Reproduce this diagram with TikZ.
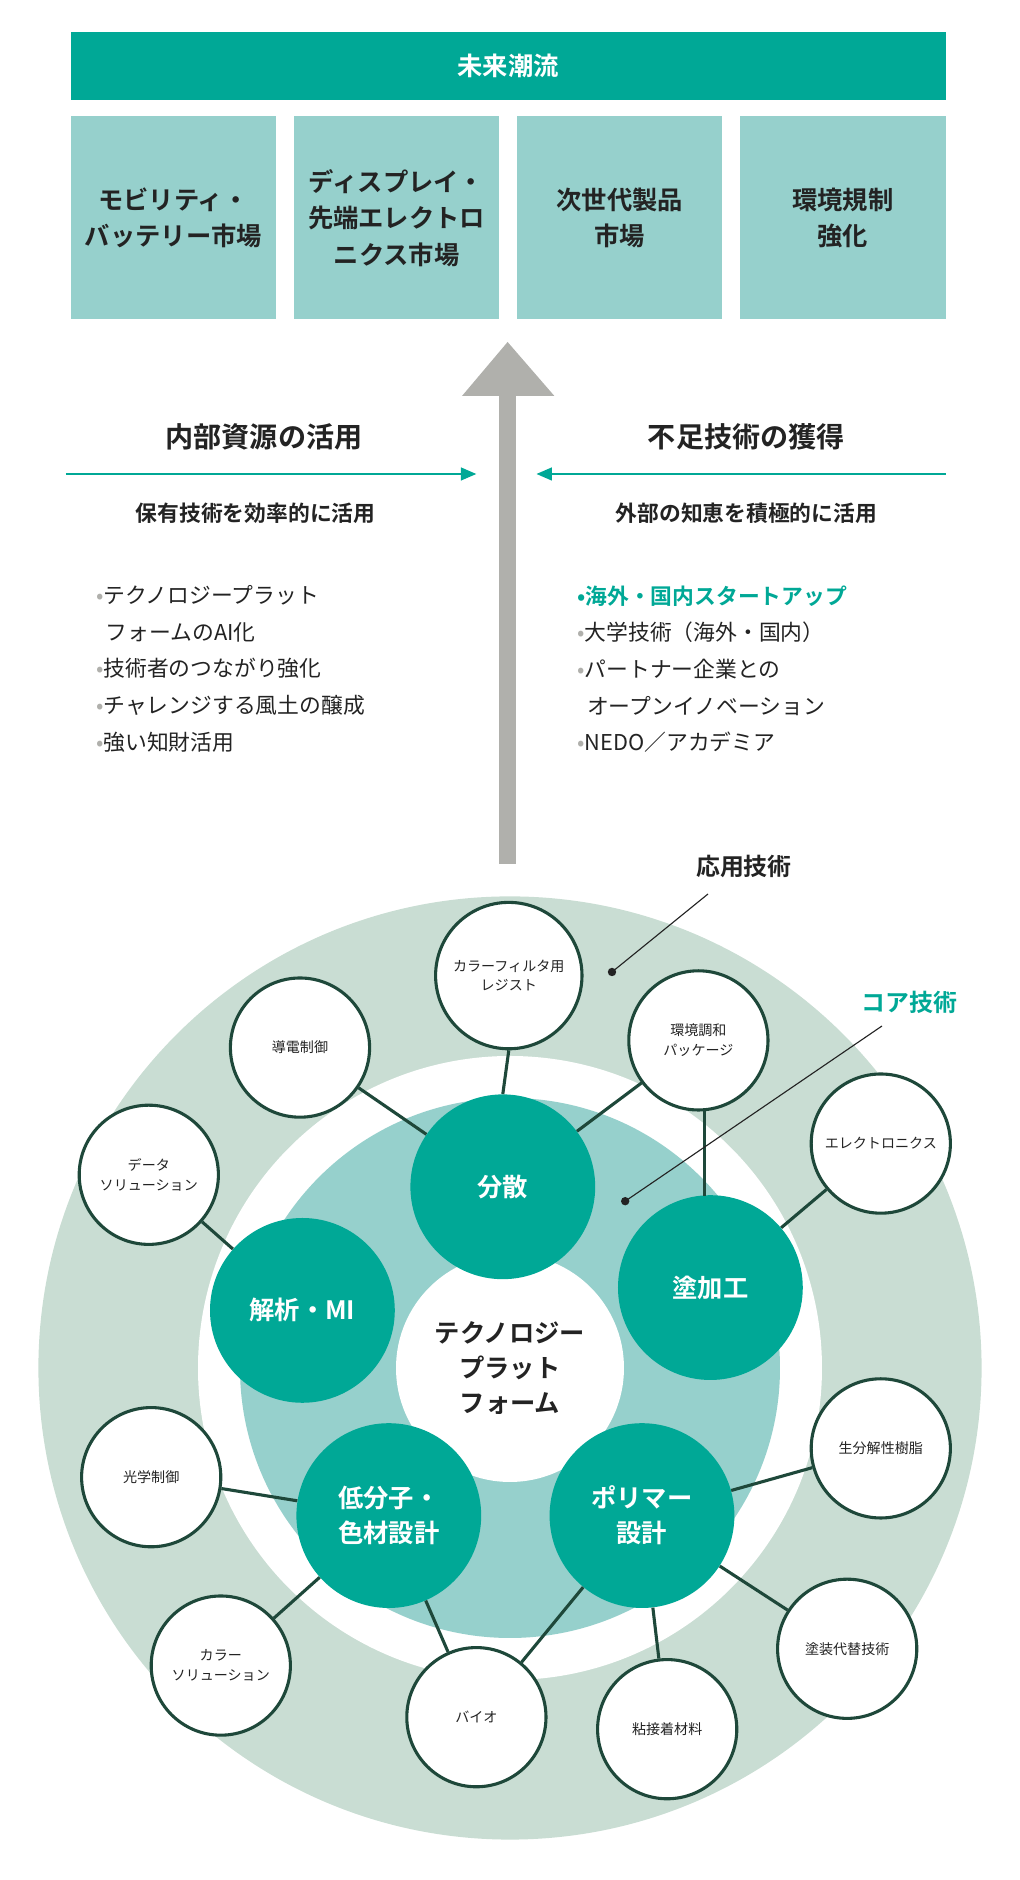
\documentclass[tikz,border=0pt]{standalone}
\usepackage{fontspec}
\setmainfont{Noto Sans CJK JP}
\newfontfamily\jpb{Noto Sans CJK JP Bold}
\usetikzlibrary{arrows.meta}
\definecolor{teal1}{RGB}{0,168,150}
\definecolor{lteal}{RGB}{150,208,204}
\definecolor{ring}{RGB}{201,221,211}
\definecolor{dk}{RGB}{30,72,58}
\definecolor{gr}{RGB}{176,176,172}
\definecolor{txt}{RGB}{35,35,35}
\begin{document}
\begin{tikzpicture}[x=0.03cm,y=-0.03cm,
 topbox/.style={fill=lteal,minimum width=171*0.03cm,minimum height=169*0.03cm,align=center,text=txt,font=\jpb\fontsize{18}{26}\selectfont},
 core/.style={circle,fill=teal1,minimum size=154*0.03cm,align=center,text=white,font=\jpb\fontsize{18}{25}\selectfont,inner sep=0},
 app/.style={circle,draw=dk,line width=2.2pt,fill=white,minimum size=116*0.03cm,align=center,text=txt,font=\fontsize{10}{14}\selectfont,inner sep=0},
 con/.style={dk,line width=2.2pt},
 hd/.style={text=txt,font=\jpb\fontsize{20}{24}\selectfont},
 sub/.style={text=txt,font=\jpb\fontsize{15.5}{20}\selectfont},
 bl/.style={text=txt,font=\fontsize{15.5}{26}\selectfont,align=left,anchor=north west}]
\useasboundingbox (0,0) rectangle (850,1566.7);
% top
\node[fill=teal1,minimum width=729*0.03cm,minimum height=56*0.03cm,text=white,font=\jpb\fontsize{18}{22}\selectfont] (t) at (423.5,55) {未来潮流};
\node[topbox] (b1) at (144.5,181.5) {モビリティ・\\バッテリー市場};
\node[topbox] (b2) at (330.5,181.5) {ディスプレイ・\\先端エレクトロ\\ニクス市場};
\node[topbox] (b3) at (516.5,181.5) {次世代製品\\市場};
\node[topbox] (b4) at (702.5,181.5) {環境規制\\強化};
% arrow
\fill[gr] (416,720) -- (416,330) -- (385,330) -- (423,285) -- (462,330) -- (430,330) -- (430,720) -- cycle;
\coordinate (sa) at (423,720);
% headings
\node[hd] (h1) at (220,364) {内部資源の活用};
\node[hd] (h2) at (622,364) {不足技術の獲得};
\coordinate (la) at (55,395); \coordinate (lb) at (397,395);
\coordinate (ra) at (788,395); \coordinate (rb) at (447,395);
\draw[teal1,line width=1.6pt,-{Triangle[length=11pt,width=9pt]}] (la)--(lb);
\draw[teal1,line width=1.6pt,-{Triangle[length=11pt,width=9pt]}] (ra)--(rb);
\node[sub] (s1) at (213,428) {保有技術を効率的に活用};
\node[sub] (s2) at (622,428) {外部の知恵を積極的に活用};
\node[bl] (l1) at (76,484) {{\color{gr}•}テクノロジープラット\\\ \ フォームのAI化\\{\color{gr}•}技術者のつながり強化\\{\color{gr}•}チャレンジする風土の醸成\\{\color{gr}•}強い知財活用};
\node[bl] (r1) at (477,484) {{\color{teal1}\jpb •海外・国内スタートアップ}\\{\color{gr}•}大学技術（海外・国内）\\{\color{gr}•}パートナー企業との\\\ \ オープンイノベーション\\{\color{gr}•}NEDO／アカデミア};
% circles
\fill[ring] (425,1140) circle (393*0.03cm);
\fill[white] (425,1140) circle (260*0.03cm);
\fill[lteal] (425,1140) circle (225*0.03cm);
\node[circle,fill=white,minimum size=190*0.03cm,align=center,text=txt,font=\jpb\fontsize{18}{25}\selectfont] (tp) at (425,1140) {テクノロジー\\プラット\\フォーム};
\node[core] (c1) at (419,989) {分散};
\node[core] (c2) at (592,1073) {塗加工};
\node[core] (c3) at (535,1263) {ポリマー\\設計};
\node[core] (c4) at (324,1263) {低分子・\\色材設計};
\node[core] (c5) at (252,1092) {解析・MI};
\node[app,minimum size=122*0.03cm] (a1) at (424,813) {カラーフィルタ用\\レジスト};
\node[app] (a2) at (250,873) {導電制御};
\node[app] (a3) at (582,867) {環境調和\\パッケージ};
\node[app] (a4) at (734,953) {エレクトロニクス};
\node[app] (a5) at (124,979) {データ\\ソリューション};
\node[app] (a6) at (734,1207) {生分解性樹脂};
\node[app] (a7) at (126,1231) {光学制御};
\node[app] (a8) at (706,1374) {塗装代替技術};
\node[app] (a9) at (184,1388) {カラー\\ソリューション};
\node[app] (a10) at (397,1431) {バイオ};
\node[app] (a11) at (556,1441) {粘接着材料};
\begin{scope}[on background layer/.style={}]
\end{scope}
\draw[con] (a1.south) -- (c1.north);
\draw[con] (a2) -- (c1);
\draw[con] (a3) -- (c1);
\draw[con] (587,925) -- (587,997);
\draw[con] (a4) -- (c2);
\draw[con] (a5) -- (c5);
\draw[con] (a6) -- (c3);
\draw[con] (a7) -- (c4);
\draw[con] (a8) -- (c3);
\draw[con] (a9) -- (c4);
\draw[con] (a10) -- (c4);
\draw[con] (a10) -- (c3);
\draw[con] (a11) -- (c3);
% labels
\node[hd,font=\jpb\fontsize{17}{20}\selectfont] (k1) at (620,722) {応用技術};
\node[hd,text=teal1,font=\jpb\fontsize{17}{20}\selectfont] (k2) at (758,835) {コア技術};
\coordinate (d1) at (510,810); \coordinate (e1) at (590,745);
\coordinate (d2) at (521,1001); \coordinate (e2) at (735,855);
\fill[txt] (d1) circle (3.5*0.03cm); \fill[txt] (d2) circle (3.5*0.03cm);
\draw[txt,line width=0.8pt] (d1)--(e1); \draw[txt,line width=0.8pt] (d2)--(e2);
\end{tikzpicture}
\end{document}
